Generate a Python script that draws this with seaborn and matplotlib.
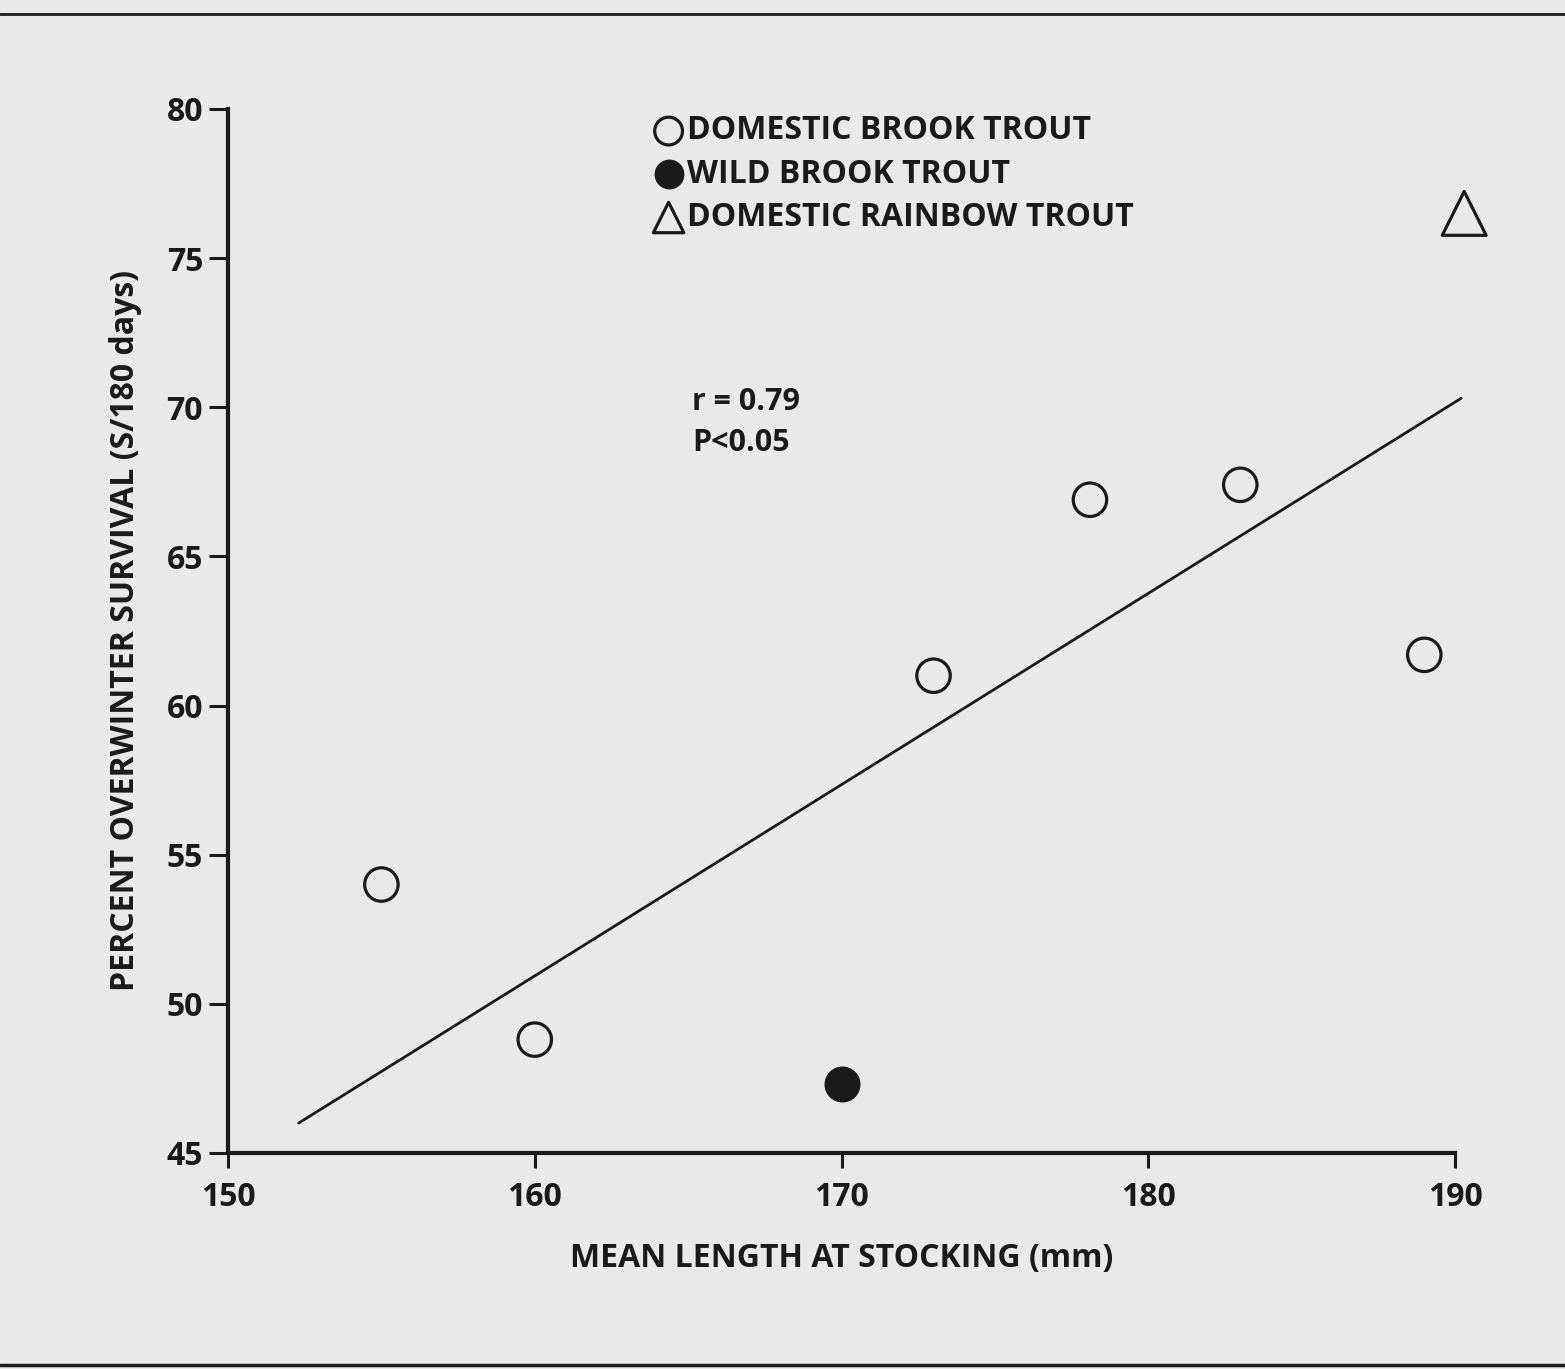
import matplotlib
matplotlib.use("Agg")
import matplotlib.pyplot as plt
import seaborn as sns
import pandas as pd
from matplotlib.lines import Line2D

# ---- data ----
domestic_brook_length = [155.0, 160.0, 173.0, 178.1, 183.0, 189.0]
domestic_brook_survival = [54.0, 48.8, 61.0, 66.9, 67.4, 61.7]
wild_brook_length = [170.0]
wild_brook_survival = [47.3]
rainbow_length = [190.3]
rainbow_survival = [76.5]
fit_length = [152.3, 190.2]
fit_survival = [46.0, 70.3]

x_ticks = [150, 160, 170, 180, 190]
y_ticks = [45, 50, 55, 60, 65, 70, 75, 80]

sns.set_theme(style="ticks")
FONT = ["Open Sans", "DejaVu Sans"]
plt.rcParams["font.family"] = FONT
plt.rcParams["font.weight"] = "bold"

BG = "#e9e9e9"
INK = "#1a1a1a"
W = "bold"

fig = plt.figure(figsize=(15.65, 13.69), dpi=100, facecolor=BG)
ax = fig.add_axes([0.1457, 0.1578, 0.9297 - 0.1457, 0.9204 - 0.1578])
ax.set_facecolor(BG)

df_dom = pd.DataFrame({"x": domestic_brook_length, "y": domestic_brook_survival})
df_wild = pd.DataFrame({"x": wild_brook_length, "y": wild_brook_survival})
df_rb = pd.DataFrame({"x": rainbow_length, "y": rainbow_survival})
df_fit = pd.DataFrame({"x": fit_length, "y": fit_survival})

sns.lineplot(data=df_fit, x="x", y="y", ax=ax, color=INK, linewidth=2.0,
             clip_on=False, legend=False)
sns.scatterplot(data=df_dom, x="x", y="y", ax=ax, marker="o", s=580,
                facecolor="none", edgecolor=INK, linewidth=2.3, clip_on=False,
                zorder=5, label="DOMESTIC BROOK TROUT")
sns.scatterplot(data=df_wild, x="x", y="y", ax=ax, marker="o", s=620,
                color=INK, edgecolor=INK, linewidth=1, clip_on=False,
                zorder=5, label="WILD BROOK TROUT")
sns.scatterplot(data=df_rb, x="x", y="y", ax=ax, marker="^", s=1000,
                facecolor="none", edgecolor=INK, linewidth=2.3, clip_on=False,
                zorder=5, label="DOMESTIC RAINBOW TROUT")

ax.set_xlim(150, 190)
ax.set_ylim(45, 80)
ax.set_xticks(x_ticks)
ax.set_yticks(y_ticks)
ax.set_xticklabels([str(t) for t in x_ticks])
ax.set_yticklabels([str(t) for t in y_ticks])

for side in ["top", "right"]:
    ax.spines[side].set_visible(False)
for side in ["left", "bottom"]:
    ax.spines[side].set_linewidth(3.0)
    ax.spines[side].set_color(INK)

ax.tick_params(axis="both", direction="out", width=2.2, color=INK,
               labelsize=23, labelcolor=INK)
ax.tick_params(axis="x", length=11, pad=9)
ax.tick_params(axis="y", length=14, pad=4)
for lab in ax.get_xticklabels() + ax.get_yticklabels():
    lab.set_fontweight(W)

ax.set_xlabel("MEAN LENGTH AT STOCKING (mm)", fontsize=23, fontweight=W,
              color=INK, labelpad=20)
ax.set_ylabel("PERCENT OVERWINTER SURVIVAL (S/180 days)", fontsize=23,
              fontweight=W, color=INK, labelpad=18)

ax.text(0.3783, 0.719, "r = 0.79", transform=ax.transAxes, fontsize=22,
        fontweight=W, color=INK, va="center", ha="left")
ax.text(0.3783, 0.680, "P<0.05", transform=ax.transAxes, fontsize=22,
        fontweight=W, color=INK, va="center", ha="left")

leg = ax.legend(loc="upper left", bbox_to_anchor=(0.335, 1.007), frameon=False,
                fontsize=23, handletextpad=0.05, labelspacing=0.32,
                borderaxespad=0.0, markerscale=0.8, handlelength=1.05)
for t in leg.get_texts():
    t.set_fontweight(W)
    t.set_color(INK)
handles = leg.legend_handles
handles[0].set_sizes([400])
handles[1].set_sizes([420])
handles[2].set_sizes([480])

# scanned-page frame lines
fig.add_artist(Line2D([0.0, 1.0], [0.990, 0.990], transform=fig.transFigure,
                      color=INK, linewidth=2.0))
fig.add_artist(Line2D([0.0, 1.0], [0.003, 0.003], transform=fig.transFigure,
                      color=INK, linewidth=2.5))

fig.savefig("out.png", dpi=100, facecolor=BG)
